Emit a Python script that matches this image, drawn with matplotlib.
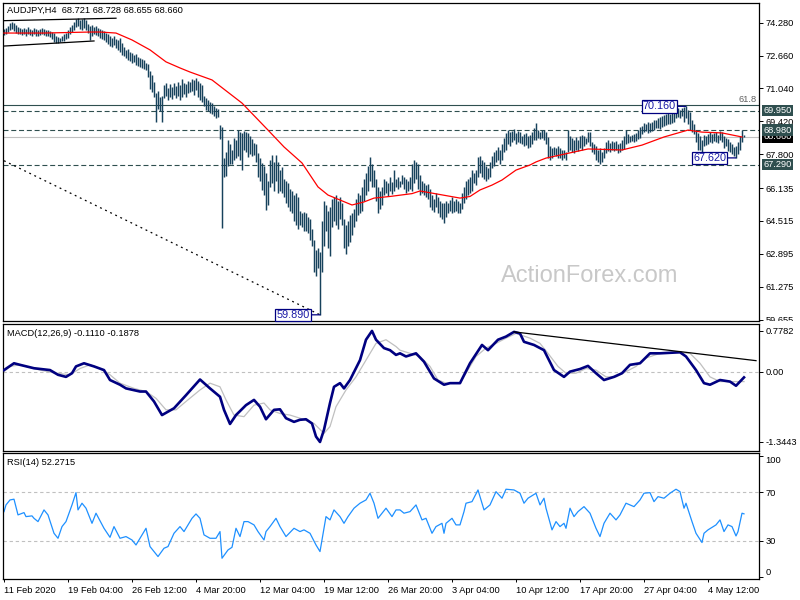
import matplotlib
matplotlib.use("Agg")
import matplotlib.pyplot as plt
from matplotlib.transforms import Bbox, TransformedBbox, blended_transform_factory

plt.rcParams['font.family'] = ['Liberation Sans', 'DejaVu Sans']

# ---------------- data ----------------
symbol = "AUDJPY,H4"
last_ohlc = [68.721, 68.728, 68.655, 68.660]

# H4 bar highs / lows, one value per bar (11 Feb 20:00 ... 7 May 12:00)
bar_high = [
    73.98, 74.02, 74.10, 74.25, 74.32, 74.28, 74.15, 74.05, 74.00, 73.98,
    74.02, 73.95, 74.05, 73.98, 73.92, 74.00, 73.96, 73.90, 73.98, 74.02,
    73.96, 73.90, 73.94, 73.85, 73.82, 73.78, 73.62, 73.58, 73.55, 73.60,
    73.70, 73.78, 73.92, 74.05, 74.15, 74.30, 74.48, 74.52, 74.40, 74.45,
    74.50, 74.42, 74.20, 74.10, 74.15, 74.05, 74.12, 74.00, 73.95, 73.90,
    73.85, 73.78, 73.70, 73.62, 73.55, 73.60, 73.50, 73.45, 73.55, 73.30,
    73.10, 72.95, 73.00, 72.85, 72.80, 72.70, 72.75, 72.60, 72.55, 72.50,
    72.45, 72.30, 72.25, 71.90, 71.70, 71.35, 70.80, 70.90, 70.60, 70.65,
    71.20, 71.30, 71.05, 71.25, 71.10, 71.30, 71.15, 71.35, 71.20, 71.50,
    71.30, 71.25, 71.40, 71.35, 71.50, 71.45, 71.55, 71.40, 71.30, 71.20,
    70.65, 70.55, 70.45, 70.35, 70.30, 70.20, 70.10, 70.05, 69.25, 69.15,
    67.60, 67.90, 68.50, 68.30, 68.00, 68.60, 68.50, 69.00, 68.90, 68.85,
    68.95, 68.90, 68.85, 68.70, 68.55, 68.35, 68.30, 67.86, 67.60, 67.37,
    67.20, 66.90, 66.50, 67.50, 67.76, 67.40, 67.76, 67.40, 67.00, 67.17,
    66.60, 66.50, 66.40, 66.10, 66.00, 65.80, 65.90, 65.70, 65.00, 64.90,
    64.95, 64.90, 64.70, 64.60, 64.10, 63.60, 63.10, 63.20, 63.00, 64.50,
    65.50, 65.30, 65.00, 65.20, 65.60, 65.70, 65.80, 65.50, 65.70, 65.40,
    64.60, 64.30, 64.50, 64.80, 64.90, 65.10, 65.60, 65.90, 65.80, 66.20,
    66.60, 66.90, 67.20, 67.66, 67.30, 67.00, 66.60, 66.20, 66.00, 66.20,
    66.60, 66.50, 66.40, 66.70, 66.45, 67.00, 66.60, 66.70, 66.50, 66.80,
    66.70, 66.60, 66.50, 66.70, 67.30, 67.50, 67.40, 67.30, 66.80, 66.50,
    66.40, 66.30, 66.35, 66.10, 65.80, 65.60, 65.90, 65.70, 65.50, 65.40,
    65.40, 65.50, 65.40, 65.55, 65.70, 65.50, 65.60, 65.50, 65.40, 65.90,
    66.20, 66.50, 66.60, 66.70, 67.00, 66.90, 67.00, 67.66, 67.70, 67.50,
    67.40, 67.20, 67.10, 67.40, 67.70, 67.90, 68.00, 68.15, 68.00, 68.30,
    68.60, 68.85, 69.00, 68.90, 68.95, 69.05, 68.85, 68.95, 68.90, 68.70,
    68.80, 68.85, 68.70, 68.75, 68.90, 69.10, 69.34, 69.00, 68.90, 69.00,
    69.00, 68.90, 68.65, 68.20, 68.10, 68.15, 68.10, 68.20, 68.10, 68.00,
    68.00, 67.90, 68.99, 68.70, 68.60, 68.50, 68.65, 68.50, 68.70, 68.75,
    68.70, 68.60, 68.90, 68.90, 68.40, 68.30, 68.20, 68.00, 68.10, 67.90,
    68.10, 68.40, 68.50, 68.35, 68.45, 68.40, 68.45, 68.30, 68.35, 68.50,
    68.70, 69.00, 68.80, 68.70, 68.75, 68.80, 68.85, 69.00, 69.14, 69.20,
    69.35, 69.30, 69.40, 69.35, 69.40, 69.50, 69.50, 69.60, 69.65, 69.70,
    69.75, 69.80, 69.85, 69.80, 69.85, 70.00, 70.05, 70.10, 70.00, 70.10,
    70.12, 70.16, 70.00, 69.90, 69.50, 69.30, 69.00, 68.85, 68.70, 68.50,
    68.75, 68.70, 68.80, 68.90, 68.80, 68.85, 68.90, 68.75, 68.95, 68.90,
    68.70, 68.60, 68.55, 68.40, 68.30, 68.15, 68.20, 68.40, 68.70, 69.00, 68.73,
]
bar_low = [
    73.68, 73.72, 73.80, 73.90, 73.95, 73.88, 73.78, 73.72, 73.70, 73.66,
    73.70, 73.62, 73.72, 73.66, 73.64, 73.70, 73.62, 73.60, 73.68, 73.72,
    73.66, 73.62, 73.60, 73.58, 73.50, 73.35, 73.30, 73.28, 73.32, 73.36,
    73.40, 73.48, 73.55, 73.70, 73.82, 73.90, 74.05, 74.10, 73.95, 73.90,
    74.00, 73.90, 73.75, 73.45, 73.60, 73.70, 73.65, 73.60, 73.55, 73.50,
    73.45, 73.35, 73.25, 73.15, 73.10, 73.20, 73.05, 72.95, 72.85, 72.70,
    72.65, 72.55, 72.45, 72.40, 72.30, 72.35, 72.20, 72.15, 72.10, 72.05,
    72.00, 71.95, 71.60, 71.00, 70.85, 70.60, 69.40, 70.05, 69.95, 69.40,
    70.55, 70.65, 70.45, 70.60, 70.50, 70.70, 70.55, 70.65, 70.45, 70.60,
    70.75, 70.60, 70.80, 70.85, 70.90, 70.70, 70.95, 70.60, 70.45, 70.35,
    70.20, 70.00, 69.95, 69.85, 69.80, 69.70, 69.60, 69.65, 68.55, 64.16,
    66.70, 66.75, 67.20, 67.30, 67.30, 67.50, 67.60, 67.70, 67.50, 67.02,
    68.00, 67.90, 67.66, 67.80, 67.70, 67.75, 67.40, 66.70, 66.50, 66.04,
    65.80, 65.05, 65.30, 66.20, 66.40, 66.00, 66.50, 65.90, 66.00, 65.90,
    65.70, 65.40, 65.20, 65.00, 64.90, 64.50, 64.30, 64.10, 64.30, 64.20,
    64.00, 64.00, 63.90, 63.60, 63.30, 62.00, 61.80, 62.20, 59.89, 62.00,
    63.30, 64.00, 63.20, 62.80, 64.20, 64.50, 64.30, 64.10, 64.60, 64.30,
    63.20, 62.90, 63.30, 63.50, 63.80, 64.20, 64.50, 64.80, 64.90, 65.00,
    65.50, 65.80, 66.00, 66.50, 66.20, 66.20, 65.50, 64.90, 65.10, 65.30,
    65.80, 65.90, 65.75, 66.00, 65.85, 66.00, 66.20, 66.10, 66.20, 66.35,
    66.10, 65.90, 66.00, 66.10, 66.00, 66.40, 66.60, 66.10, 65.80, 65.90,
    65.80, 65.70, 65.60, 65.20, 65.05, 64.95, 65.20, 64.90, 64.70, 64.60,
    64.41, 64.70, 64.90, 65.00, 64.90, 64.95, 65.00, 64.90, 64.90, 65.10,
    65.40, 65.60, 65.80, 65.90, 66.00, 66.40, 66.30, 66.70, 66.90, 66.70,
    66.60, 66.50, 66.60, 66.70, 67.10, 67.20, 67.40, 67.50, 67.30, 67.50,
    67.90, 68.00, 68.30, 68.20, 68.40, 68.50, 68.30, 68.40, 68.35, 68.30,
    68.20, 68.25, 68.10, 68.15, 68.30, 68.50, 68.50, 68.60, 68.55, 68.60,
    68.50, 68.30, 67.60, 67.50, 67.60, 67.75, 67.70, 67.60, 67.60, 67.50,
    67.60, 67.50, 67.90, 68.00, 67.90, 67.85, 68.00, 67.95, 68.10, 68.00,
    68.20, 68.30, 68.40, 68.20, 67.90, 67.80, 67.50, 67.40, 67.30, 67.40,
    67.60, 67.85, 67.95, 67.90, 68.00, 67.95, 68.00, 67.85, 67.90, 68.00,
    68.05, 68.30, 68.35, 68.40, 68.45, 68.40, 68.45, 68.55, 68.60, 68.80,
    68.90, 68.95, 68.85, 68.90, 68.95, 69.00, 69.10, 69.10, 69.05, 69.15,
    69.20, 69.25, 69.30, 69.30, 69.35, 69.40, 69.60, 69.65, 69.60, 69.70,
    69.40, 69.60, 69.30, 69.00, 68.90, 68.80, 68.40, 68.00, 68.00, 67.90,
    68.20, 68.25, 68.30, 68.40, 68.35, 68.45, 68.40, 68.35, 68.50, 68.40,
    68.10, 68.20, 67.95, 67.90, 67.80, 67.70, 67.62, 67.80, 68.00, 68.40, 68.66,
]

# moving average (red) as (bar, price)
ma_points = [(0, 73.77), (20, 73.77), (43, 73.82), (48, 73.82), (56, 73.77), (64, 73.43),
             (73, 72.94), (81, 72.35), (88, 72.05), (93, 71.85), (104, 71.46), (119, 70.32),
             (132, 68.99), (140, 68.16), (149, 67.37), (157, 66.19), (162, 65.79), (174, 65.30),
             (180, 65.45), (185, 65.64), (193, 65.72), (204, 65.86), (208, 65.99), (216, 65.85),
             (228, 65.64), (233, 65.72), (238, 66.04), (244, 66.28), (249, 66.53), (256, 67.02),
             (263, 67.27), (266, 67.42), (271, 67.61), (278, 67.76), (292, 68.06), (309, 68.01),
             (319, 68.25), (330, 68.65), (342, 68.99), (349, 68.89), (359, 68.85), (369, 68.65)]

# drawn objects
level_lines = [69.950, 68.980, 67.290]
fib_618 = 70.21
bid_price = 68.660
swing_marks = [(341, 70.160), (366, 67.620), (158, 59.890)]
channel_top = [(0, 74.38), (56, 74.50)]
channel_bottom = [(0, 73.13), (45, 73.38)]
fib_base = [(0, 67.48), (158, 59.89)]

price_ticks = [74.280, 72.660, 71.040, 69.420, 67.800, 66.135, 64.515, 62.895, 61.275, 59.655]

# MACD(12,26,9)
macd_last, signal_last = -0.1110, -0.1878
macd_points = [(0, 0.03), (5, 0.16), (8, 0.13), (15, 0.065), (23, 0.03), (27, -0.06), (31, -0.10),
               (34, -0.03), (36, 0.10), (40, 0.16), (45, 0.10), (50, 0.03), (53, -0.16), (58, -0.25),
               (61, -0.32), (68, -0.38), (71, -0.38), (75, -0.57), (79, -0.83), (85, -0.70), (91, -0.45),
               (98, -0.15), (103, -0.32), (108, -0.48), (110, -0.73), (113, -1.00), (116, -0.83),
               (121, -0.64), (125, -0.54), (128, -0.67), (131, -0.91), (135, -0.73), (138, -0.72),
               (141, -0.89), (145, -0.96), (148, -0.92), (151, -0.91), (154, -0.99), (156, -1.24),
               (158, -1.3443), (160, -1.11), (163, -0.60), (165, -0.29), (168, -0.22), (170, -0.32),
               (173, -0.16), (178, 0.22), (181, 0.61), (184, 0.7782), (186, 0.61), (190, 0.45),
               (193, 0.41), (196, 0.32), (198, 0.35), (201, 0.29), (206, 0.35), (210, 0.19),
               (215, -0.13), (220, -0.25), (223, -0.22), (228, -0.22), (233, 0.16), (239, 0.51),
               (242, 0.41), (247, 0.61), (251, 0.67), (255, 0.76), (258, 0.73), (260, 0.57),
               (265, 0.51), (270, 0.41), (275, 0.03), (280, -0.10), (283, 0.00), (288, 0.05),
               (292, 0.11), (296, -0.03), (300, -0.16), (305, -0.10), (309, -0.03), (313, 0.13),
               (318, 0.16), (323, 0.35), (328, 0.35), (338, 0.37), (341, 0.29), (346, 0.03),
               (350, -0.22), (353, -0.25), (358, -0.16), (363, -0.19), (366, -0.27), (370, -0.11)]
signal_points = [(0, 0.00), (3, 0.10), (8, 0.13), (18, 0.03), (26, -0.03), (33, -0.06), (38, 0.06),
                 (43, 0.13), (48, 0.06), (53, -0.06), (58, -0.22), (65, -0.32), (71, -0.38),
                 (76, -0.51), (81, -0.73), (86, -0.73), (91, -0.57), (98, -0.35), (103, -0.22),
                 (108, -0.29), (111, -0.54), (115, -0.83), (120, -0.86), (125, -0.64), (130, -0.60),
                 (133, -0.73), (138, -0.80), (143, -0.83), (148, -0.89), (155, -0.99), (160, -1.18),
                 (163, -1.05), (166, -0.67), (171, -0.35), (176, -0.10), (181, 0.22), (186, 0.54),
                 (191, 0.61), (196, 0.48), (198, 0.41), (203, 0.35), (208, 0.29), (213, 0.10),
                 (217, -0.16), (221, -0.22), (228, -0.22), (231, -0.03), (236, 0.29), (241, 0.45),
                 (246, 0.54), (251, 0.64), (256, 0.73), (263, 0.64), (268, 0.54), (272, 0.35),
                 (277, 0.10), (281, -0.03), (286, -0.03), (291, 0.06), (296, 0.03), (301, -0.10),
                 (306, -0.10), (311, 0.00), (316, 0.10), (321, 0.26), (328, 0.35), (336, 0.37),
                 (343, 0.35), (348, 0.16), (353, -0.10), (358, -0.19), (365, -0.19), (370, -0.19)]
macd_trend = [(255, 0.76), (376, 0.21)]
macd_ticks = [0.7782, 0.0, -1.3443]
macd_tick_labels = ["0.7782", "0.00", "-1.3443"]

# RSI(14)
rsi_last = 52.2715
rsi_points = [(0, 54.1), (1, 59.6), (3, 63.7), (5, 64.3), (7, 51.4), (10, 53.3), (11, 50.0), (14, 50.6),
              (15, 48.6), (17, 45.9), (20, 55.5), (22, 51.4), (25, 36.3), (27, 32.2), (29, 41.8),
              (31, 45.9), (34, 59.6), (36, 69.7), (37, 55.5), (39, 61.0), (41, 56.9), (44, 44.5),
              (46, 52.8), (50, 40.4), (53, 33.0), (55, 41.8), (58, 32.2), (61, 33.6), (64, 30.8),
              (66, 26.7), (69, 35.0), (71, 40.4), (73, 25.4), (77, 17.2), (80, 24.0), (82, 25.4),
              (85, 36.3), (88, 41.8), (90, 37.7), (94, 48.6), (96, 52.2), (98, 48.6), (100, 35.0),
              (103, 32.2), (106, 32.2), (108, 37.7), (109, 15.8), (112, 22.6), (114, 24.8),
              (116, 40.4), (118, 33.6), (120, 45.9), (122, 45.9), (125, 43.2), (127, 37.7),
              (130, 30.8), (131, 37.7), (133, 41.8), (136, 48.6), (138, 41.8), (141, 33.6),
              (145, 40.4), (148, 37.7), (150, 39.1), (153, 36.3), (156, 26.7), (158, 21.3),
              (160, 40.4), (161, 50.0), (163, 47.3), (165, 55.5), (168, 50.0), (170, 44.5),
              (172, 50.0), (175, 56.9), (178, 61.0), (181, 63.7), (183, 69.2), (185, 61.0),
              (187, 48.6), (189, 52.8), (191, 56.9), (194, 50.0), (196, 55.5), (198, 55.5),
              (200, 52.8), (203, 54.1), (206, 59.6), (209, 47.3), (211, 48.6), (214, 36.3),
              (216, 41.8), (219, 44.5), (220, 36.3), (221, 44.5), (224, 48.6), (226, 43.2),
              (228, 43.2), (230, 54.1), (231, 61.0), (234, 62.3), (237, 71.9), (240, 55.5),
              (243, 59.6), (246, 70.5), (249, 65.1), (251, 72.5), (255, 71.9), (258, 69.2),
              (260, 61.0), (262, 65.1), (266, 69.2), (268, 59.6), (270, 65.1), (271, 56.9),
              (274, 39.1), (276, 45.9), (278, 41.8), (280, 44.5), (281, 40.4), (283, 56.9),
              (285, 50.0), (287, 54.1), (290, 58.2), (293, 52.8), (296, 40.4), (298, 33.6),
              (300, 44.5), (303, 52.8), (306, 47.3), (308, 51.4), (311, 61.0), (315, 58.2),
              (318, 63.7), (320, 69.2), (323, 69.7), (325, 62.3), (327, 66.4), (330, 65.1),
              (333, 69.2), (336, 72.5), (338, 70.5), (340, 56.9), (341, 61.0), (344, 45.9),
              (346, 36.3), (349, 28.7), (350, 36.3), (352, 39.1), (356, 43.2), (358, 47.3),
              (360, 37.7), (362, 43.2), (364, 41.8), (366, 34.1), (367, 37.7), (369, 52.8),
              (370, 52.27)]
rsi_ticks = [100, 70, 30, 0]

date_ticks = [0, 32, 64, 96, 128, 160, 192, 224, 256, 288, 320, 352]
date_labels = ["11 Feb 2020", "19 Feb 04:00", "26 Feb 12:00", "4 Mar 20:00", "12 Mar 04:00",
               "19 Mar 12:00", "26 Mar 20:00", "3 Apr 04:00", "10 Apr 12:00", "17 Apr 20:00",
               "27 Apr 04:00", "4 May 12:00"]

# ---------------- layout (pixel based, MT4 style) ----------------
W, H = 800, 600
FS = 6.7
fig = plt.figure(figsize=(W / 100, H / 100), dpi=100)
fig.patch.set_facecolor('white')


def panel(top, bottom):
    a = fig.add_axes([3 / W, 1 - bottom / H, 756 / W, (bottom - top) / H])
    a.set_xlim(-0.5, 377.5)
    for s in a.spines.values():
        s.set_linewidth(0.9)
        s.set_color('black')
    a.tick_params(axis='y', left=False, labelleft=False, right=True, labelright=True,
                  direction='out', length=3, width=0.7, pad=1.5, labelsize=FS, colors='black')
    a.tick_params(axis='x', bottom=False, labelbottom=False)
    return a


ax = panel(3, 320.5)
axm = panel(323.5, 450.5)
axr = panel(452.7, 579.3)

# ---- price panel ----
ax.set_ylim(59.61, 75.25)
ax.set_yticks(price_ticks, [f"{p:.3f}" for p in price_ticks])

idx = list(range(len(bar_high)))
ax.vlines(idx, bar_low, bar_high, color='#17425c', lw=1.05, zorder=2)

ma_x, ma_y = zip(*ma_points)
ax.plot(ma_x, ma_y, color='#ff0000', lw=0.9, zorder=3)

for lv in level_lines:
    ax.axhline(lv, color='#2f4f4f', lw=0.8, ls=(0, (4.5, 2.5)), zorder=1)
ax.axhline(fib_618, color='#2f4f4f', lw=0.8, zorder=1)
ax.axhline(bid_price, color='#c0c0c0', lw=0.8, zorder=1)
ax.text(376.5, fib_618 + 0.08, "61.8", ha='right', va='bottom', fontsize=FS, color='#606060')

for seg in (channel_top, channel_bottom):
    sx, sy = zip(*seg)
    ax.plot(sx, sy, color='black', lw=0.9, zorder=3)
fx, fy = zip(*fib_base)
ax.plot(fx, fy, color='black', lw=0.9, ls=(0, (1.5, 3)), zorder=3)

for bi, val in swing_marks:
    ax.annotate(f"{val:.3f}", xy=(bi, val), xytext=(-10, 0), textcoords='offset pixels',
                ha='right', va='center', fontsize=7.8, color='#1a1aa6',
                bbox=dict(boxstyle='square,pad=0.12', fc='white', ec='#000080', lw=0.9),
                arrowprops=dict(arrowstyle='-', color='#000080', lw=0.9, shrinkA=0, shrinkB=0),
                zorder=6)

right = blended_transform_factory(ax.transAxes, ax.transData)
ax.text(1.0055, bid_price, f"{bid_price:.3f}", transform=right, ha='left', va='center',
        fontsize=FS, color='white', clip_on=False, zorder=5,
        bbox=dict(boxstyle='square,pad=0.15', fc='black', ec='none'))
for lv in level_lines:
    ax.text(1.0055, lv, f"{lv:.3f}", transform=right, ha='left', va='center',
            fontsize=FS, color='white', clip_on=False, zorder=6,
            bbox=dict(boxstyle='square,pad=0.15', fc='#2f4f4f', ec='none'))

header = f"{symbol}  " + " ".join(f"{v:.3f}" for v in last_ohlc)
ax.text(0.0053, (320.5 - 10.7) / 317.5, header, transform=ax.transAxes,
        ha='left', va='center', fontsize=FS, color='black')
ax.text(0.7765, 0.14, "ActionForex.com", transform=ax.transAxes, ha='center', va='center',
        fontsize=17, color='#c8c8c8', zorder=0)

clip = TransformedBbox(Bbox([[0, 1 - 320.5 / H], [1, 1]]), fig.transFigure)
for t in ax.yaxis.get_major_ticks():
    t.label2.set_clip_box(clip)
    t.label2.set_clip_on(True)

# ---- MACD panel ----
axm.set_ylim(-1.507, 0.92)
axm.set_yticks(macd_ticks, macd_tick_labels)
axm.axhline(0, color='#c0c0c0', lw=0.8, ls=(0, (3, 2.5)), zorder=1)
sx, sy = zip(*signal_points)
axm.plot(sx, sy, color='#c0c0c0', lw=0.9, zorder=2)
mx, my = zip(*macd_points)
axm.plot(mx, my, color='#000080', lw=1.9, zorder=3)
tx, ty = zip(*macd_trend)
axm.plot(tx, ty, color='black', lw=0.9, zorder=4)
axm.text(0.0053, (450.5 - 334) / 127, f"MACD(12,26,9) {macd_last:.4f} {signal_last:.4f}",
         transform=axm.transAxes, ha='left', va='center', fontsize=FS, color='black')

# ---- RSI panel ----
axr.set_ylim(-1.5, 102.5)
axr.set_yticks(rsi_ticks, [str(v) for v in rsi_ticks])
for t, v in zip(axr.yaxis.get_major_ticks(), rsi_ticks):
    if v == 100:
        t.label2.set_va('top')
    elif v == 0:
        t.label2.set_va('bottom')
for lv in (70, 30):
    axr.axhline(lv, color='#c0c0c0', lw=0.8, ls=(0, (3, 2.5)), zorder=1)
rx, ry = zip(*rsi_points)
axr.plot(rx, ry, color='#1e90ff', lw=0.9, zorder=2)
axr.text(0.0053, (579.3 - 462.7) / 126.6, f"RSI(14) {rsi_last:.4f}",
         transform=axr.transAxes, ha='left', va='center', fontsize=FS, color='black')

axr.set_xticks(date_ticks, date_labels)
axr.tick_params(axis='x', bottom=True, labelbottom=True, direction='out', length=2.5,
                width=0.7, pad=2, labelsize=FS, colors='black')
for lab in axr.get_xticklabels():
    lab.set_ha('left')

fig.savefig('out.png', dpi=100)
